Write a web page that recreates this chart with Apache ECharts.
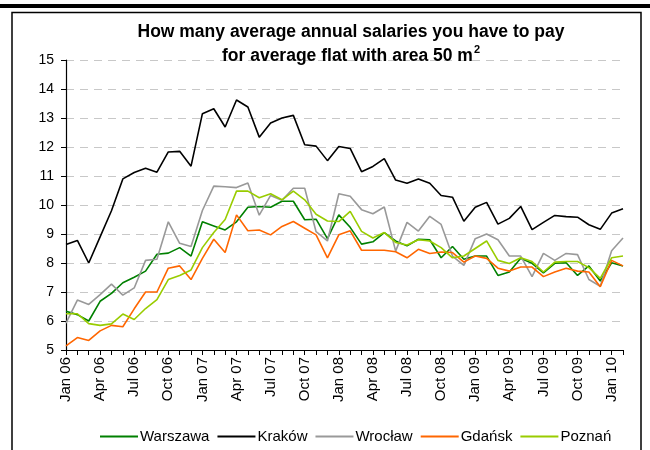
<!DOCTYPE html>
<html>
<head>
<meta charset="utf-8">
<script src="https://cdn.jsdelivr.net/npm/echarts@6/dist/echarts.min.js"></script>
<style>
  html, body { margin: 0; padding: 0; background: #fff; }
  #chart { width: 650px; height: 450px; }
</style>
</head>
<body>
<div id="chart"></div>
<script>
const monthNames = ["Jan", "Feb", "Mar", "Apr", "May", "Jun", "Jul", "Aug", "Sep", "Oct", "Nov", "Dec"];
const years = ["06", "07", "08", "09", "10"];
const monthsCount = 50; // Jan 06 .. Feb 10

const cityNames = ["Warszawa", "Kraków", "Wrocław", "Gdańsk", "Poznań"];
const cityColors = ["#008000", "#000000", "#999999", "#ff6600", "#99cc00"];

const warszawa = [6.34, 6.22, 6.0, 6.68, 6.95, 7.32, 7.51, 7.72, 8.3, 8.34,
  8.53, 8.24, 9.42, 9.28, 9.14, 9.42, 9.92, 9.95, 9.92, 10.13,
  10.13, 9.49, 9.51, 8.84, 9.66, 9.23, 8.65, 8.73, 9.05, 8.76,
  8.59, 8.82, 8.8, 8.18, 8.57, 8.13, 8.24, 8.24, 7.57, 7.69,
  8.16, 7.99, 7.66, 7.99, 8.01, 7.57, 7.9, 7.38, 8.01, 7.9];

const krakow = [8.64, 8.78, 8.0, 8.9, 9.8, 10.9, 11.12, 11.27, 11.13, 11.83,
  11.85, 11.34, 13.15, 13.32, 12.69, 13.62, 13.38, 12.34, 12.83, 13.0,
  13.09, 12.08, 12.03, 11.53, 12.02, 11.95, 11.15, 11.33, 11.6, 10.86,
  10.75, 10.9, 10.75, 10.33, 10.27, 9.44, 9.92, 10.09, 9.34, 9.54,
  9.95, 9.15, 9.4, 9.64, 9.6, 9.58, 9.32, 9.16, 9.72, 9.87];

const wroclaw = [5.93, 6.72, 6.57, 6.91, 7.27, 6.89, 7.14, 8.09, 8.13, 9.42,
  8.68, 8.57, 9.81, 10.65, 10.63, 10.6, 10.76, 9.65, 10.33, 10.16,
  10.58, 10.58, 9.08, 8.76, 10.39, 10.3, 9.84, 9.7, 9.93, 8.41,
  9.4, 9.1, 9.61, 9.33, 8.24, 7.92, 8.84, 9.0, 8.8, 8.24,
  8.24, 7.53, 8.33, 8.09, 8.33, 8.29, 7.43, 7.2, 8.42, 8.86];

const gdansk = [5.14, 5.43, 5.33, 5.66, 5.85, 5.8, 6.42, 7.0, 7.0, 7.82,
  7.9, 7.43, 8.16, 8.82, 8.36, 9.66, 9.11, 9.14, 8.97, 9.26,
  9.43, 9.2, 8.97, 8.18, 8.97, 9.11, 8.44, 8.44, 8.44, 8.39,
  8.18, 8.47, 8.33, 8.38, 8.36, 8.03, 8.24, 8.16, 7.82, 7.72,
  7.86, 7.86, 7.53, 7.69, 7.82, 7.72, 7.69, 7.18, 8.09, 7.9];

const poznan = [6.25, 6.25, 5.91, 5.85, 5.9, 6.24, 6.05, 6.43, 6.74, 7.43,
  7.57, 7.76, 8.53, 9.05, 9.5, 10.48, 10.48, 10.25, 10.39, 10.18,
  10.48, 10.18, 9.68, 9.45, 9.43, 9.78, 9.09, 8.86, 9.05, 8.71,
  8.62, 8.8, 8.76, 8.53, 8.18, 8.24, 8.5, 8.76, 8.09, 7.98,
  8.18, 8.05, 7.69, 8.03, 8.05, 8.05, 7.84, 7.47, 8.18, 8.24];

const seriesValues = [warszawa, krakow, wroclaw, gdansk, poznan];

const months = [];
for (let i = 0; i < monthsCount; i++) {
  months.push(monthNames[i % 12] + " " + years[Math.floor(i / 12)]);
}

const fontName = "'Liberation Sans', Arial, sans-serif";

const chart = echarts.init(document.getElementById("chart"), null, { renderer: "canvas" });

const series = [];
for (let i = 0; i < cityNames.length; i++) {
  series.push({
    name: cityNames[i],
    type: "line",
    data: seriesValues[i],
    symbol: "none",
    lineStyle: { color: cityColors[i], width: 1.6 },
    itemStyle: { color: cityColors[i] },
    animation: false
  });
}

const option = {
  backgroundColor: "#ffffff",
  animation: false,
  title: {
    text: "How many average annual salaries you have to pay\nfor average flat with area 50 m{sup|2}",
    left: 346,
    textAlign: "center",
    top: 15,
    textStyle: {
      fontFamily: fontName,
      fontSize: 17.5,
      fontWeight: "bold",
      color: "#000",
      lineHeight: 24,
      rich: {
        sup: { fontSize: 11, fontWeight: "bold", fontFamily: fontName, verticalAlign: "top", padding: [0, 0, 9, 1] }
      }
    }
  },
  legend: {
    bottom: 1,
    left: 95,
    itemWidth: 38,
    itemHeight: 2,
    itemGap: 8,
    icon: "rect",
    data: cityNames,
    textStyle: { fontFamily: fontName, fontSize: 15, color: "#000", padding: [0, 0, 0, -3] }
  },
  graphic: [
    {
      type: "rect",
      shape: { x: 0, y: 4, width: 650, height: 4 },
      style: { fill: "#000" }
    },
    {
      type: "rect",
      shape: { x: 12, y: 12.5, width: 629, height: 460 },
      style: { fill: "none", stroke: "#000", lineWidth: 1.5 }
    }
  ],
  grid: { left: 66, right: 27, top: 60, bottom: 100 },
  xAxis: {
    type: "category",
    data: months,
    boundaryGap: false,
    axisLine: { lineStyle: { color: "#000", width: 1.2 } },
    axisTick: { alignWithLabel: true, interval: 0, length: 5, lineStyle: { color: "#000" } },
    axisLabel: {
      interval: 2,
      rotate: 90,
      fontFamily: fontName,
      fontSize: 15,
      color: "#000",
      margin: 7
    },
    splitLine: { show: false }
  },
  yAxis: {
    type: "value",
    min: 5,
    max: 15,
    interval: 1,
    axisLine: { show: true, lineStyle: { color: "#000", width: 1.2 } },
    axisTick: { show: true, length: 5, lineStyle: { color: "#000" } },
    axisLabel: { fontFamily: fontName, fontSize: 14, color: "#000", margin: 12 },
    splitLine: { lineStyle: { color: "#c8c8c8", type: [8, 6], width: 1 } }
  },
  series: series
};

chart.setOption(option);
</script>
</body>
</html>
